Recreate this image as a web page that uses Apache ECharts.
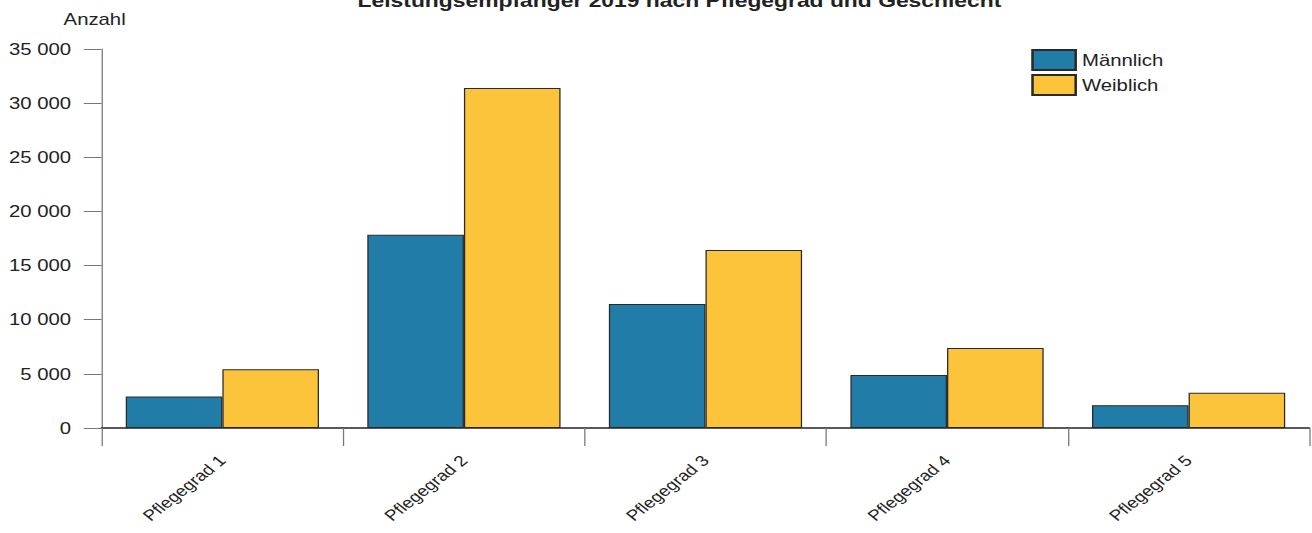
<!DOCTYPE html>
<html><head><meta charset="utf-8">
<script src="https://cdn.jsdelivr.net/npm/echarts@6/dist/echarts.min.js"></script>
<style>html,body{margin:0;padding:0;background:#fff;overflow:hidden}
#c{width:1033px;height:533px;transform:scaleX(1.27);transform-origin:0 0}</style>
</head><body><div id="c"></div>
<script>
const titleText = 'Leistungsempfänger 2019 nach Pflegegrad und Geschlecht';
const categories = ['Pflegegrad 1', 'Pflegegrad 2', 'Pflegegrad 3', 'Pflegegrad 4', 'Pflegegrad 5'];
const seriesNames = ['Männlich', 'Weiblich'];
const maleValues = [2920, 17850, 11450, 4890, 2090];
const femaleValues = [5420, 31400, 16430, 7390, 3260];
const yTicks = [0, 5000, 10000, 15000, 20000, 25000, 30000, 35000];

const fmt = v => String(v).replace(/\B(?=(\d{3})+(?!\d))/g, ' ');
const font = 'Liberation Sans, Arial, sans-serif';
const chart = echarts.init(document.getElementById('c'), null, { renderer: 'svg' });
chart.setOption({
  animation: false,
  textStyle: { fontFamily: font },
  title: { text: titleText, left: 535, textAlign: 'center', top: -9, padding: 0,
    textStyle: { fontSize: 18, fontWeight: 'bold', color: '#222', fontFamily: font } },
  legend: { orient: 'vertical', left: 812, top: 49, itemWidth: 34, itemHeight: 20, itemGap: 3,
    padding: 0, icon: 'rect', textStyle: { fontSize: 16, color: '#222', padding: [0, 0, 0, 0] },
    data: seriesNames },
  grid: { left: 80, right: 2, top: 49, bottom: 105, containLabel: false },
  xAxis: { type: 'category', data: categories,
    axisLine: { lineStyle: { color: '#222', width: 1.5 } },
    axisTick: { show: true, length: 18, lineStyle: { color: '#777' } },
    axisLabel: { rotate: 45, fontSize: 15, color: '#222', margin: 30 } },
  yAxis: { type: 'value', min: yTicks[0], max: yTicks[yTicks.length - 1], interval: 5000,
    name: 'Anzahl', nameLocation: 'end', nameGap: 22,
    nameTextStyle: { fontSize: 16, color: '#222', align: 'center', padding: [0, 11, 0, 0] },
    axisLine: { show: true, lineStyle: { color: '#777' } },
    axisTick: { show: true, length: 14, lineStyle: { color: '#777' } },
    splitLine: { show: false },
    axisLabel: { fontSize: 16, color: '#222', margin: 24, formatter: v => fmt(v) } },
  series: [
    { name: seriesNames[0], type: 'bar', data: maleValues, barGap: '0%', barCategoryGap: '20%',
      itemStyle: { color: '#217ca8', borderColor: '#2a2a2a', borderWidth: 1 } },
    { name: seriesNames[1], type: 'bar', data: femaleValues, barGap: '0%', barCategoryGap: '20%',
      itemStyle: { color: '#fbc43b', borderColor: '#2a2a2a', borderWidth: 1 } }
  ]
});
</script></body></html>
